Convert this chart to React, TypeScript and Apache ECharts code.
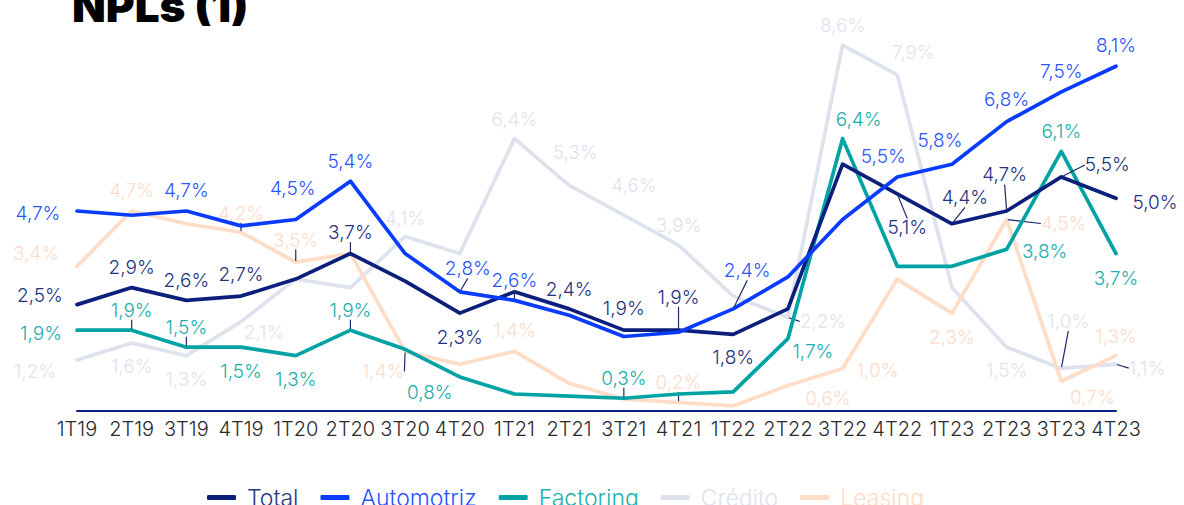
import React, { useEffect, useRef } from 'react';
import * as echarts from 'echarts';

const categories = ['1T19', '2T19', '3T19', '4T19', '1T20', '2T20', '3T20', '4T20', '1T21', '2T21', '3T21', '4T21', '1T22', '2T22', '3T22', '4T22', '1T23', '2T23', '3T23', '4T23'];

const total = [2.5, 2.9, 2.6, 2.7, 3.1, 3.7, 3.05, 2.3, 2.8, 2.4, 1.9, 1.9, 1.8, 2.4, 5.8, 5.1, 4.4, 4.7, 5.5, 5.0];
const automotriz = [4.7, 4.6, 4.7, 4.35, 4.5, 5.4, 3.7, 2.8, 2.6, 2.25, 1.75, 1.85, 2.4, 3.15, 4.5, 5.5, 5.8, 6.8, 7.5, 8.1];
const factoring = [1.9, 1.9, 1.5, 1.5, 1.3, 1.9, 1.45, 0.8, 0.4, 0.35, 0.3, 0.4, 0.45, 1.7, 6.4, 3.4, 3.4, 3.8, 6.1, 3.7];
const credito = [1.2, 1.6, 1.3, 2.1, 3.1, 2.9, 4.1, 3.7, 6.4, 5.3, 4.6, 3.9, 2.7, 2.2, 8.6, 7.9, 2.9, 1.5, 1.0, 1.1];
const leasing = [3.4, 4.7, 4.4, 4.2, 3.5, 3.7, 1.4, 1.1, 1.4, 0.65, 0.28, 0.2, 0.12, 0.6, 1.0, 3.1, 2.3, 4.5, 0.7, 1.3];

type Off = [number, number] | null;

// label offsets (px) from each point, null = no label
const totalLabels: Off[] = [[-37, -9], [0, -20], [0, -20], [0, -22], null, [0, -21], null, [0, 24], null, [0, -19], [0, -22], [0, -33], [0, 23], null, null, [10, 34], [13, -26], [-2, -36], [46, -12], [39, 4]];
const totalLeaders = [5, 11, 15, 16, 17, 18];
const autoLabels: Off[] = [[-39, 3], null, [0, -20], null, [-3, -31], [0, -20], null, [8, -23], [0, -20], null, null, null, [14, -38], null, null, [-14, -20], [-12, -24], [0, -22], [0, -20], [0, -21]];
const autoLeaders = [7, 8, 12];
const factLabels: Off[] = [[-36, 3], [0, -20], [0, -20], [0, 24], [0, 24], [0, -20], null, [-30, 16], null, null, [0, -20], null, null, [25, 13], [16, -19], null, null, [38, 2], [0, -20], [0, 25]];
const factLeaders = [1, 2, 5, 10];
const credLabels: Off[] = [[-42, 12], [0, 24], [0, 24], [23, 11], null, null, [0, -18], null, [0, -19], [6, -33], [10, -30], [0, -20], null, [35, 4], [0, -20], [16, -22], null, [0, 23], [7, -47], [31, 4]];
const credLeaders = [13, 18, 19];
const leasLabels: Off[] = [[-41, -13], [0, -20], null, [0, -19], [0, -22], null, [-22, 20], null, [0, -21], null, null, [0, -20], null, [40, 13], [35, 2], null, [0, 24], [57, 4], [31, 16], [0, -19]];
const leasLeaders = [3, 4, 6, 11, 17];

const FONT = 'Inter, "Noto Sans", sans-serif';
const LEADER = '#1b2a6b';

const fmt = (p: any) => (Number(p.value).toFixed(1)).replace('.', ',') + '%';

function buildSeries(name: string, values: number[], offs: Off[], leaders: number[], color: string, labelColor: string, z: number) {
  return {
    name,
    type: 'line',
    z,
    symbol: 'circle',
    symbolSize: 2,
    showSymbol: true,
    lineStyle: { color, width: 3.7, cap: 'round', join: 'round' },
    itemStyle: { color },
    emphasis: { disabled: true },
    label: {
      position: 'inside',
      align: 'center',
      verticalAlign: 'middle',
      color: labelColor,
      fontSize: 19,
      fontFamily: FONT,
      fontWeight: 300,
      formatter: fmt,
    },
    labelLine: { show: false, lineStyle: { color: LEADER, width: 1.2 } },
    data: values.map((v, i) => {
      const off = offs[i];
      if (!off) return { value: v, label: { show: false } };
      return {
        value: v,
        label: { show: true, offset: off },
        labelLine: { show: leaders.includes(i), lineStyle: { color: LEADER, width: 1.2 } },
      };
    }),
  };
}

const colors = {
  total: '#0c1f7c',
  auto: '#0a3cff',
  fact: '#00a3a3',
  cred: '#dde2ec',
  leas: '#fddcc8',
};

export default function App() {
  const ref = useRef<HTMLDivElement>(null);
  useEffect(() => {
    if (!ref.current) return;
    const chart = echarts.init(ref.current, null, { renderer: 'svg' });
    chart.setOption({
      animation: false,
      backgroundColor: '#ffffff',
      title: {
        text: 'NPLs (1)',
        left: 67,
        top: -21,
        textStyle: { fontSize: 44, fontWeight: 900, color: '#000', fontFamily: FONT },
      },
      legend: {
        left: 202,
        top: 481,
        itemWidth: 29,
        itemHeight: 5,
        itemGap: 22,
        icon: 'roundRect',
        textStyle: { fontSize: 23, fontFamily: FONT, fontWeight: 300, padding: [0, 0, 0, 6] },
        data: [
          { name: 'Total', textStyle: { color: '#2a3a80' } },
          { name: 'Automotriz', textStyle: { color: '#2a55ff' } },
          { name: 'Factoring', textStyle: { color: '#22b0ae' } },
          { name: 'Crédito', textStyle: { color: '#dfe3ee' } },
          { name: 'Leasing', textStyle: { color: '#fddcc8' } },
        ],
      },
      grid: { left: 77, right: 68, top: 28, bottom: 94, containLabel: false },
      xAxis: {
        type: 'category',
        data: categories,
        boundaryGap: false,
        axisLine: { lineStyle: { color: '#0b2183', width: 2 } },
        axisTick: { show: false },
        axisLabel: { interval: 0, color: '#2a2a2a', fontSize: 20, fontFamily: FONT, fontWeight: 300, margin: 8 },
        splitLine: { show: false },
      },
      yAxis: { type: 'value', min: 0, max: 9, show: false, splitLine: { show: false } },
      series: [
        buildSeries('Total', total, totalLabels, totalLeaders, colors.total, '#22327e', 4),
        buildSeries('Automotriz', automotriz, autoLabels, autoLeaders, colors.auto, '#2a55ff', 5),
        buildSeries('Factoring', factoring, factLabels, factLeaders, colors.fact, '#1aaeac', 3),
        buildSeries('Crédito', credito, credLabels, credLeaders, colors.cred, '#dfe3ee', 1),
        buildSeries('Leasing', leasing, leasLabels, leasLeaders, colors.leas, '#fcdccb', 2),
      ],
    });
    return () => chart.dispose();
  }, []);
  return <div ref={ref} style={{ position: 'fixed', left: 0, top: 0, width: 1184, height: 505 }} />;
}
